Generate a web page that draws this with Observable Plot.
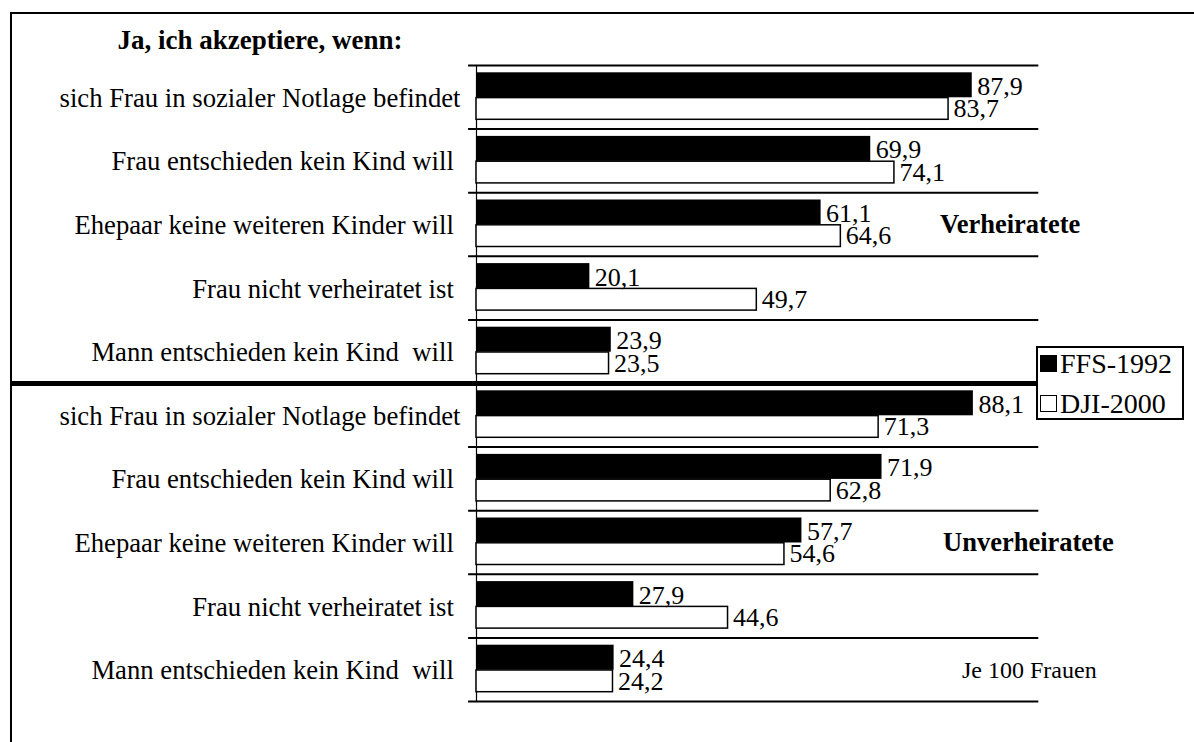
<!DOCTYPE html>
<html><head><meta charset="utf-8">
<script src="https://cdn.jsdelivr.net/npm/d3@7"></script>
<script src="https://cdn.jsdelivr.net/npm/@observablehq/plot@0.6"></script>
<style>
html,body{margin:0;padding:0;background:#fff;}
#wrap{position:relative;width:1194px;height:742px;overflow:hidden;font-family:"Liberation Serif","Times New Roman",serif;color:#000;background:#fff;}
#frame{position:absolute;left:10px;top:12px;width:1300px;height:800px;border-left:2px solid #000;border-top:2px solid #000;}
#chart{position:absolute;left:0;top:0;}
#chart svg, #chart svg text{font-family:"Liberation Serif","Times New Roman",serif !important;white-space:pre;}
.lbl{position:absolute;line-height:1;white-space:pre;}
#legend{position:absolute;left:1036px;top:346px;width:144px;height:70px;border:2px solid #000;background:#fff;}
.sw{position:absolute;width:17px;height:17px;box-sizing:border-box;}
</style></head>
<body>
<div id="wrap">
  <div id="frame"></div>
  <div id="chart"></div>
  <div class="lbl" id="title" style="left:60px;width:400px;text-align:center;top:27.4px;font-size:27px;font-weight:bold;"></div>
  <div class="lbl" id="g0" style="left:940px;top:211px;font-size:26.5px;font-weight:bold;"></div>
  <div class="lbl" id="g1" style="left:943px;top:529px;font-size:26.5px;font-weight:bold;"></div>
  <div class="lbl" id="note" style="left:962px;top:658px;font-size:24px;"></div>
  <div id="legend"></div>
  <div class="sw" style="left:1040px;top:355px;background:#000;"></div>
  <div class="lbl" id="s0" style="left:1060px;top:349.5px;font-size:28px;"></div>
  <div class="sw" style="left:1040px;top:395px;background:#fff;border:1.5px solid #000;"></div>
  <div class="lbl" id="s1" style="left:1060px;top:389.5px;font-size:28px;"></div>
</div>
<script>
const title = "Ja, ich akzeptiere, wenn:";
const groups = ["Verheiratete", "Unverheiratete"];
const categories = [
  "sich Frau in sozialer Notlage befindet",
  "Frau entschieden kein Kind will ",
  "Ehepaar keine weiteren Kinder will ",
  "Frau nicht verheiratet ist ",
  "Mann entschieden kein Kind  will "
];
const series = ["FFS-1992", "DJI-2000"];
const ffs1992 = [87.9, 69.9, 61.1, 20.1, 23.9, 88.1, 71.9, 57.7, 27.9, 24.4];
const dji2000 = [83.7, 74.1, 64.6, 49.7, 23.5, 71.3, 62.8, 54.6, 44.6, 24.2];
const note = "Je 100 Frauen";

document.getElementById("title").textContent = title;
document.getElementById("g0").textContent = groups[0];
document.getElementById("g1").textContent = groups[1];
document.getElementById("note").textContent = note;
document.getElementById("s0").textContent = series[0];
document.getElementById("s1").textContent = series[1];

const rows = groups.flatMap(g => categories.map(c => ({group: g, category: c, key: g + "|" + c})));
const data = rows.flatMap((r, i) => [
  {...r, series: series[0], value: ffs1992[i]},
  {...r, series: series[1], value: dji2000[i]}
]);
const fmt = v => v.toFixed(1).replace(".", ",");
const step = 63.6;
const A = data.filter(d => d.series === series[0]);
const B = data.filter(d => d.series === series[1]);
const serif = "Liberation Serif";

const plot = Plot.plot({
  width: 1194, height: 742,
  marginTop: 65, marginBottom: 41, marginLeft: 476, marginRight: 154,
  style: {fontFamily: "'Liberation Serif', serif", background: "transparent", overflow: "visible", color: "#000"},
  x: {domain: [0, 100], axis: null},
  y: {type: "band", domain: rows.map(r => r.key), padding: 0, round: false, axis: null},
  marks: [
    Plot.ruleY(rows.filter((r, i) => i !== 5), {y: "key", dy: -step / 2, x1: -1.4, x2: 99.7, stroke: "#000", strokeWidth: 2}),
    Plot.ruleY(rows.slice(-1), {y: "key", dy: step / 2, x1: -1.4, x2: 99.7, stroke: "#000", strokeWidth: 2}),
    Plot.ruleY(rows.slice(5, 6), {y: "key", dy: -step / 2, x1: -82.6, x2: 100, stroke: "#000", strokeWidth: 5}),
    Plot.ruleX([0], {stroke: "#000", strokeWidth: 1.2}),
    Plot.barX(A, {x: "value", y: "key", fill: "#000", insetTop: 7.3, insetBottom: 31.3}),
    Plot.barX(B, {x: "value", y: "key", fill: "#fff", stroke: "#000", strokeWidth: 1.5, insetTop: 32.6, insetBottom: 9.3}),
    Plot.text(A, {x: "value", y: "key", text: d => fmt(d.value), dx: 5, dy: -10.75, textAnchor: "start", fontSize: 26, fontFamily: serif, fill: "#000"}),
    Plot.text(B, {x: "value", y: "key", text: d => fmt(d.value), dx: 5, dy: 11.6, textAnchor: "start", fontSize: 26, fontFamily: serif, fill: "#000"}),
    Plot.text(rows, {x: 0, y: "key", text: "category", textAnchor: "end", dx: -16, dy: 1, fontSize: 26.7, fontFamily: serif, fill: "#000"})
  ]
});
document.getElementById("chart").appendChild(plot);
</script>
</body></html>
